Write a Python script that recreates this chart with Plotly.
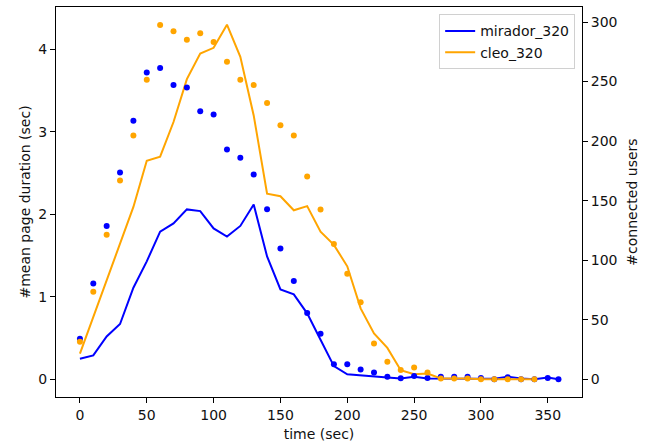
import plotly.graph_objects as go

# time axis (sec)
mirador_t = [0, 10, 20, 30, 40, 50, 60, 70, 80, 90, 100, 110, 120, 130, 140, 150, 160, 170,
             180, 190, 200, 210, 220, 230, 240, 250, 260, 270, 280, 290, 300, 310, 320, 330,
             340, 350, 358]
cleo_t = [0, 10, 20, 30, 40, 50, 60, 70, 80, 90, 100, 110, 120, 130, 140, 150, 160, 170,
          180, 190, 200, 210, 220, 230, 240, 250, 260, 270, 280, 290, 300, 310, 320, 330, 340]

# mean page duration (sec) - lines, left axis
mirador_duration = [0.25, 0.29, 0.52, 0.67, 1.11, 1.43, 1.79, 1.89, 2.06, 2.04, 1.83, 1.73, 1.86,
                    2.12, 1.49, 1.09, 1.03, 0.80, 0.48, 0.16, 0.06, 0.045, 0.035, 0.02, 0.01,
                    0.03, 0.01, 0.01, 0.01, 0.01, 0.01, 0.005, 0.03, 0.01, 0.0, 0.02, 0.0]
cleo_duration = [0.31, 0.76, 1.21, 1.65, 2.09, 2.65, 2.70, 3.12, 3.64, 3.95, 4.02, 4.30, 3.91,
                 3.20, 2.25, 2.22, 2.05, 2.10, 1.79, 1.63, 1.37, 0.86, 0.555, 0.38, 0.11, 0.06,
                 0.07, 0.01, 0.01, 0.01, 0.0, 0.0, 0.0, 0.0, 0.0]

# connected users - dots, right axis
mirador_users = [34, 80.5, 128.7, 173.6, 217, 257.6, 261.3, 247, 245, 225, 222.3, 193, 186, 172,
                 142.7, 109.7, 82.5, 55.7, 38.2, 12.5, 12.5, 8.1, 5.6, 2, 0.8, 2.8, 1, 2.2, 2.2,
                 2.2, 1, 0, 1.6, 0, 0, 1, 0]
cleo_users = [31.5, 73.5, 121.4, 167, 204.7, 251.5, 297.5, 292.2, 285, 290.5, 283.3, 266.6,
              251.5, 247, 232, 213.4, 204.7, 170.2, 142.6, 113.6, 88.6, 64.6, 30.1, 14.8, 7.8,
              9.8, 5.6, 0.6, 0.6, 0.6, 0, 0, 0, 0, 0]

x_ticks = [0, 50, 100, 150, 200, 250, 300, 350]
left_ticks = [0, 1, 2, 3, 4]
right_ticks = [0, 50, 100, 150, 200, 250, 300]

BLUE = "#0000ff"
ORANGE = "#ffa500"
FONT = "DejaVu Sans"
FS = 14
TXT = "#111"

fig = go.Figure()
fig.add_trace(go.Scatter(x=mirador_t, y=mirador_duration, mode="lines", name="mirador_320",
                         line=dict(color=BLUE, width=2), yaxis="y"))
fig.add_trace(go.Scatter(x=cleo_t, y=cleo_duration, mode="lines", name="cleo_320",
                         line=dict(color=ORANGE, width=2), yaxis="y"))
fig.add_trace(go.Scatter(x=mirador_t, y=mirador_users, mode="markers", showlegend=False,
                         marker=dict(color=BLUE, size=6), yaxis="y2"))
fig.add_trace(go.Scatter(x=cleo_t, y=cleo_users, mode="markers", showlegend=False,
                         marker=dict(color=ORANGE, size=6), yaxis="y2"))

axis_common = dict(showgrid=False, zeroline=False, showline=True, linecolor="black",
                   linewidth=1, ticks="outside", ticklen=5, tickwidth=1, tickcolor="black",
                   tickfont=dict(family=FONT, size=FS, color=TXT))

fig.update_layout(
    width=651, height=446,
    margin=dict(l=56, r=69, t=6, b=48),
    paper_bgcolor="white", plot_bgcolor="white",
    font=dict(family=FONT, size=FS, color=TXT),
    xaxis=dict(range=[-17.9, 375.6], tickvals=x_ticks, mirror=True,
               title=dict(text="time (sec)", standoff=7, font=dict(family=FONT, size=FS)),
               **axis_common),
    yaxis=dict(range=[-0.215, 4.515], tickvals=left_ticks,
               title=dict(text="#mean page duration (sec)", standoff=4,
                          font=dict(family=FONT, size=FS)),
               **axis_common),
    yaxis2=dict(range=[-14.9, 312.6], tickvals=right_ticks, overlaying="y", side="right",
                title=dict(text="#connected users", standoff=10, font=dict(family=FONT, size=FS)),
                **axis_common),
    legend=dict(x=0.987, y=0.981, xanchor="right", yanchor="top",
                bgcolor="rgba(255,255,255,0.8)", bordercolor="#d0d0d0", borderwidth=1,
                font=dict(family=FONT, size=FS, color=TXT), itemwidth=30,
                tracegroupgap=0),
    showlegend=True,
)

fig.write_html("out.html", config={"displayModeBar": False},
               post_script="document.body.style.margin='0';")
